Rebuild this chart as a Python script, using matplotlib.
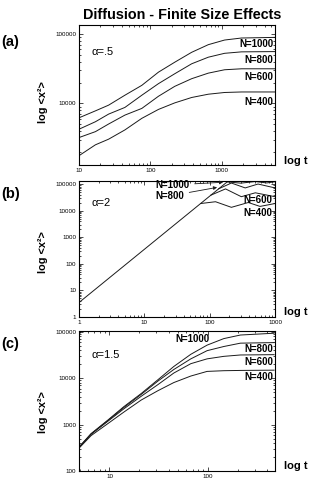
import matplotlib
matplotlib.use("Agg")
import matplotlib.pyplot as plt
from matplotlib.ticker import LogLocator, FuncFormatter, NullFormatter

plt.rcParams['font.family'] = ['Liberation Sans', 'DejaVu Sans']

# ---- data ----
# (a) alpha = .5
t_a = [10, 17, 26, 44, 76, 130, 220, 380, 650, 1100, 1900, 5600]
a_n1000 = [6220, 7830, 9460, 13150, 18250, 28250, 39300, 54600, 70300, 82000, 87700, 89500]
a_n800 = [4260, 5460, 7030, 8770, 13150, 19300, 26800, 37300, 46400, 52800, 55400, 55900]
a_n600 = [3230, 3930, 5060, 6800, 8490, 12700, 17650, 22750, 27350, 30600, 31600, 31600]
a_n400 = [1770, 2540, 3060, 4160, 6110, 8210, 10200, 12200, 13600, 14400, 14650, 14650]

# (b) alpha = 2 : ballistic part then oscillating plateaus
t_b_ball = [1, 10, 100, 200]
b_ball = [3.5, 350, 35000, 140000]
t_b400 = [73, 123, 215, 390, 590, 1000]
b_n400 = [18500, 21600, 13300, 20200, 14400, 18500]
t_b600 = [104, 175, 305, 500, 1000]
b_n600 = [38000, 65600, 33400, 46800, 33400]
t_b800 = [137, 215, 350, 550, 1000]
b_n800 = [66000, 109000, 71400, 100000, 71400]
t_b1000 = [185, 300, 500, 750, 1000]
b_n1000 = [120000, 108000, 124000, 110000, 122000]

# (c) alpha = 1.5
t_c = [5, 6.5, 9.6, 14, 21, 31, 45, 67, 98, 145, 214, 470]
c_n1000 = [345, 640, 1250, 2450, 4700, 9300, 18000, 33000, 52000, 72000, 86000, 94000]
c_n800 = [340, 630, 1220, 2350, 4500, 8700, 15500, 26300, 39500, 48600, 57400, 59000]
c_n600 = [335, 620, 1180, 2200, 4100, 7300, 13000, 20700, 26300, 29800, 31900, 32400]
c_n400 = [325, 580, 1050, 1870, 3400, 5400, 8100, 11200, 14100, 14600, 14800, 15000]

W, H = 317, 483


def fx(x):
    return x / W


def fy(y):
    return 1 - y / H


fig = plt.figure(figsize=(W / 100, H / 100), dpi=100)

# axes boxes in pixel coords (left, top, right, bottom)
boxes = [(79, 25, 275, 165), (79, 181, 275, 317), (79, 331, 275, 471)]
axes = []
for l, t, r, b in boxes:
    ax = fig.add_axes([fx(l), fy(b), (r - l) / W, (b - t) / H])
    ax.set_xscale('log')
    ax.set_yscale('log')
    for s in ax.spines.values():
        s.set_linewidth(0.8)
    ax.tick_params(which='both', direction='in', top=True, right=True,
                   labelsize=4.5, pad=2, width=0.5)
    ax.tick_params(which='major', length=3)
    ax.tick_params(which='minor', length=1.5)
    ax.xaxis.set_major_locator(LogLocator(base=10))
    ax.yaxis.set_major_locator(LogLocator(base=10))
    ax.xaxis.set_minor_locator(LogLocator(base=10, subs=range(2, 10)))
    ax.yaxis.set_minor_locator(LogLocator(base=10, subs=range(2, 10)))
    fmt = FuncFormatter(lambda v, p: '%d' % round(v))
    ax.xaxis.set_major_formatter(fmt)
    ax.yaxis.set_major_formatter(fmt)
    ax.xaxis.set_minor_formatter(NullFormatter())
    ax.yaxis.set_minor_formatter(NullFormatter())
    axes.append(ax)

lw = 0.7
col = '#1a1a1a'

# (a)
ax = axes[0]
for ys in (a_n1000, a_n800, a_n600, a_n400):
    ax.plot(t_a, ys, color=col, lw=lw)
ax.set_xlim(10, 5600)
ax.set_ylim(1300, 135000)

# (b)
ax = axes[1]
ax.plot(t_b_ball, b_ball, color=col, lw=lw)
for tt, ys in ((t_b400, b_n400), (t_b600, b_n600), (t_b800, b_n800), (t_b1000, b_n1000)):
    ax.plot(tt, ys, color=col, lw=lw)
ax.set_xlim(1, 1000)
ax.set_ylim(1, 130000)

# (c)
ax = axes[2]
for ys in (c_n1000, c_n800, c_n600, c_n400):
    ax.plot(t_c, ys, color=col, lw=lw)
ax.set_xlim(4.9, 480)
ax.set_ylim(100, 105000)

# ---- text ----
fig.text(fx(182), fy(15), 'Diffusion - Finite Size Effects', ha='center', va='center',
         fontsize=10.4, fontweight='bold')

for lab, y in (('(a)', 42), ('(b)', 194), ('(c)', 344)):
    fig.text(fx(1), fy(y), lab, ha='left', va='center', fontsize=10.5, fontweight='bold')

for y in (102, 252, 412):
    fig.text(fx(43), fy(y), 'log <x\u00b2>', ha='center', va='center', rotation=90,
             fontsize=7.8, fontweight='bold')

for y in (161, 312, 466):
    fig.text(fx(284), fy(y), 'log t', ha='left', va='center', fontsize=8, fontweight='bold')

for lab, y in (('\u03b1=.5', 52), ('\u03b1=2', 203), ('\u03b1=1.5', 355)):
    fig.text(fx(91), fy(y), lab, ha='left', va='center', fontsize=8)

nkw = dict(ha='right', va='center', fontsize=7, fontweight='bold')
for lab, y in (('N=1000', 44), ('N=800', 60), ('N=600', 77), ('N=400', 102)):
    fig.text(fx(273), fy(y), lab, **nkw)
for lab, y in (('N=600', 200), ('N=400', 213)):
    fig.text(fx(272), fy(y), lab, **nkw)
for lab, y in (('N=800', 349), ('N=600', 362), ('N=400', 377)):
    fig.text(fx(273), fy(y), lab, **nkw)
fig.text(fx(175), fy(339), 'N=1000', ha='left', va='center', fontsize=7, fontweight='bold')

# arrows in (b)
akw = dict(arrowstyle='-|>', color=col, lw=0.6, mutation_scale=5)
axes[1].annotate('N=1000', xy=(177, 118000), xycoords='data',
                 xytext=(fx(155), fy(185)), textcoords='figure fraction',
                 ha='left', va='center', fontsize=7, fontweight='bold',
                 arrowprops=akw)
axes[1].annotate('N=800', xy=(143, 78000), xycoords='data',
                 xytext=(fx(155), fy(196)), textcoords='figure fraction',
                 ha='left', va='center', fontsize=7, fontweight='bold',
                 arrowprops=akw)

fig.savefig('out.png', dpi=100)
